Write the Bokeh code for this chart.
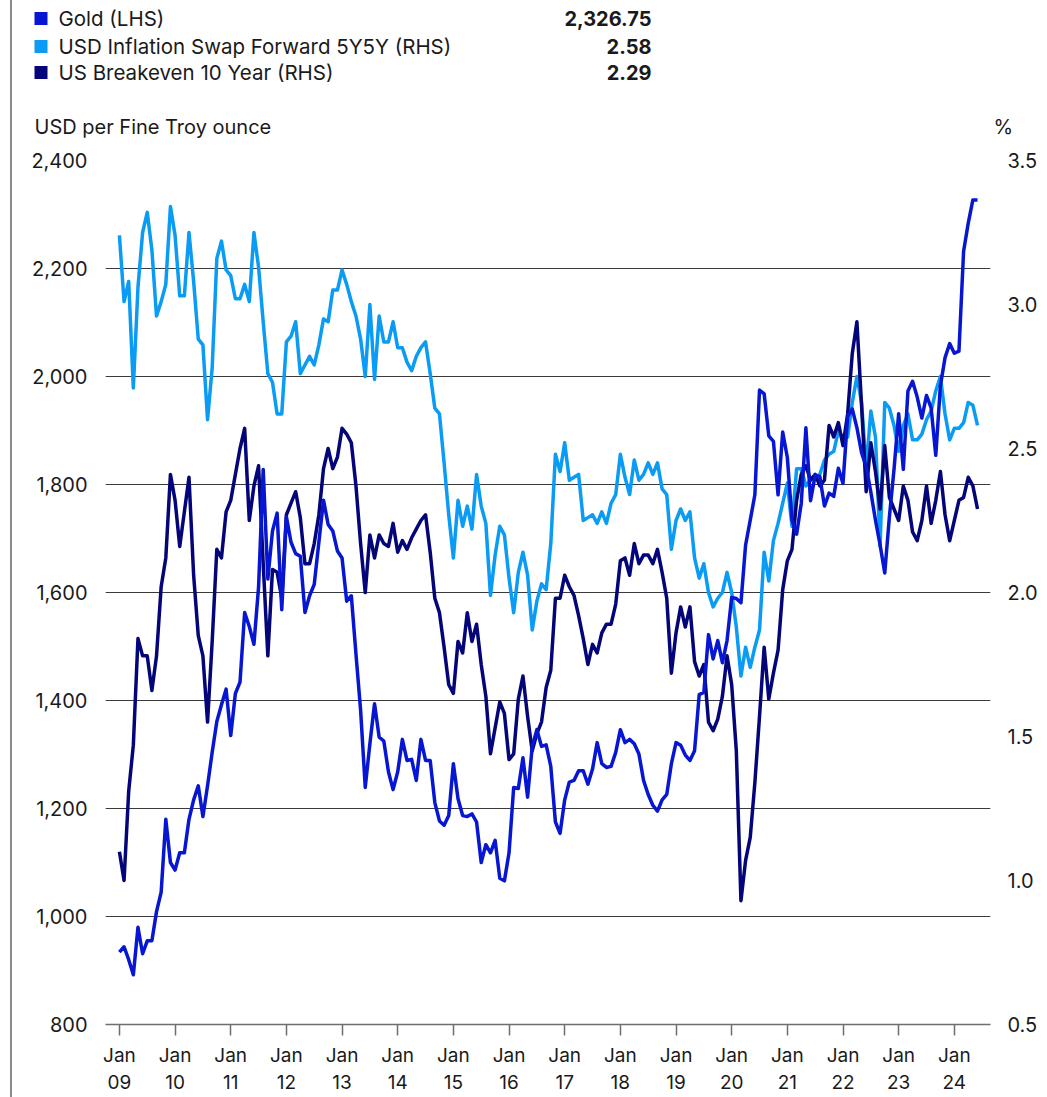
from bokeh.plotting import figure
from bokeh.models import Range1d, LinearAxis, FixedTicker, NumeralTickFormatter
from bokeh.embed import file_html
from bokeh.resources import INLINE
from bokeh.core.properties import value

# ---------------- data (monthly, Jan 2009 - Jun 2024) ----------------
gold = [934, 944, 920, 892, 980, 931, 955, 955, 1009, 1045, 1180, 1100,
        1086, 1118, 1118, 1180, 1216, 1242, 1185, 1242, 1304, 1361, 1392, 1421,
        1335, 1413, 1434, 1563, 1537, 1504, 1610, 1828, 1625, 1714, 1747, 1568,
        1740, 1693, 1672, 1667, 1563, 1594, 1615, 1693, 1771, 1726, 1714, 1677,
        1664, 1584, 1594, 1486, 1382, 1239, 1320, 1394, 1332, 1325, 1268, 1235,
        1268, 1328, 1289, 1291, 1252, 1328, 1289, 1289, 1211, 1177, 1169, 1187,
        1283, 1218, 1187, 1185, 1190, 1175, 1100, 1133, 1118, 1141, 1071, 1066,
        1118, 1239, 1237, 1294, 1221, 1315, 1346, 1315, 1318, 1278, 1175, 1154,
        1216, 1249, 1252, 1270, 1270, 1245, 1273, 1322, 1283, 1276, 1278, 1304,
        1346, 1322, 1328, 1320, 1301, 1252, 1226, 1206, 1195, 1216, 1226, 1283,
        1322, 1317, 1299, 1289, 1307, 1411, 1415, 1522, 1477, 1511, 1470, 1511,
        1591, 1589, 1581, 1688, 1734, 1781, 1975, 1968, 1890, 1880, 1781, 1897,
        1850, 1734, 1708, 1765, 1905, 1770, 1817, 1815, 1760, 1784, 1778, 1830,
        1802, 1926, 1940, 1905, 1859, 1833, 1786, 1734, 1688, 1636, 1740, 1828,
        1931, 1828, 1973, 1991, 1962, 1923, 1965, 1942, 1854, 1983, 2035, 2061,
        2043, 2047, 2232, 2284, 2327, 2326.75]

swap_5y5y = [3.24, 3.01, 3.08, 2.71, 3.06, 3.25, 3.32, 3.19, 2.96, 3.01, 3.07, 3.34,
             3.24, 3.03, 3.03, 3.25, 3.08, 2.88, 2.86, 2.60, 2.78, 3.16, 3.22, 3.12,
             3.10, 3.02, 3.02, 3.07, 3.01, 3.25, 3.13, 2.94, 2.76, 2.73, 2.62, 2.62,
             2.87, 2.89, 2.94, 2.76, 2.79, 2.82, 2.79, 2.86, 2.95, 2.94, 3.05, 3.05,
             3.12, 3.07, 3.01, 2.96, 2.88, 2.75, 3.00, 2.74, 2.96, 2.87, 2.87, 2.94,
             2.85, 2.85, 2.80, 2.77, 2.82, 2.85, 2.87, 2.76, 2.64, 2.62, 2.45, 2.27,
             2.12, 2.32, 2.23, 2.30, 2.22, 2.41, 2.30, 2.24, 1.99, 2.13, 2.23, 2.20,
             2.05, 1.93, 2.07, 2.14, 2.06, 1.87, 1.97, 2.03, 2.01, 2.17, 2.48, 2.42,
             2.52, 2.39, 2.40, 2.41, 2.25, 2.26, 2.27, 2.24, 2.28, 2.24, 2.31, 2.34,
             2.48, 2.40, 2.34, 2.46, 2.39, 2.41, 2.45, 2.41, 2.45, 2.36, 2.34, 2.15,
             2.25, 2.29, 2.25, 2.28, 2.12, 2.05, 2.10, 2.00, 1.95, 1.98, 2.00, 2.07,
             2.00, 1.88, 1.71, 1.81, 1.74, 1.81, 1.87, 2.14, 2.04, 2.18, 2.24, 2.31,
             2.38, 2.23, 2.43, 2.43, 2.37, 2.39, 2.40, 2.41, 2.46, 2.48, 2.49, 2.56,
             2.54, 2.54, 2.66, 2.75, 2.66, 2.43, 2.63, 2.54, 2.16, 2.66, 2.64, 2.58,
             2.49, 2.58, 2.62, 2.53, 2.53, 2.55, 2.60, 2.63, 2.70, 2.75, 2.62, 2.53,
             2.57, 2.57, 2.59, 2.66, 2.65, 2.58]

breakeven_10y = [1.10, 1.00, 1.31, 1.47, 1.84, 1.78, 1.78, 1.66, 1.78, 2.02, 2.12, 2.41,
                 2.32, 2.16, 2.28, 2.40, 2.06, 1.85, 1.78, 1.55, 1.83, 2.15, 2.12, 2.28,
                 2.32, 2.41, 2.50, 2.57, 2.25, 2.37, 2.44, 2.10, 1.78, 2.08, 2.07, 1.98,
                 2.27, 2.31, 2.35, 2.26, 2.10, 2.10, 2.17, 2.27, 2.43, 2.50, 2.43, 2.47,
                 2.57, 2.55, 2.52, 2.37, 2.17, 2.00, 2.20, 2.12, 2.20, 2.17, 2.16, 2.24,
                 2.14, 2.18, 2.15, 2.19, 2.22, 2.25, 2.27, 2.14, 1.98, 1.93, 1.81, 1.68,
                 1.65, 1.83, 1.79, 1.93, 1.83, 1.89, 1.75, 1.64, 1.44, 1.53, 1.62, 1.58,
                 1.42, 1.44, 1.63, 1.71, 1.57, 1.45, 1.51, 1.55, 1.67, 1.73, 1.98, 1.98,
                 2.06, 2.02, 1.99, 1.92, 1.84, 1.75, 1.82, 1.79, 1.86, 1.89, 1.89, 1.96,
                 2.11, 2.12, 2.06, 2.17, 2.10, 2.13, 2.13, 2.10, 2.15, 2.07, 1.98, 1.72,
                 1.86, 1.95, 1.88, 1.95, 1.76, 1.71, 1.75, 1.55, 1.52, 1.56, 1.64, 1.78,
                 1.68, 1.45, 0.93, 1.07, 1.15, 1.34, 1.57, 1.81, 1.63, 1.72, 1.80, 2.01,
                 2.11, 2.15, 2.32, 2.41, 2.44, 2.39, 2.41, 2.37, 2.39, 2.58, 2.54, 2.59,
                 2.51, 2.62, 2.83, 2.94, 2.65, 2.35, 2.52, 2.42, 2.29, 2.51, 2.33, 2.29,
                 2.25, 2.37, 2.32, 2.21, 2.18, 2.25, 2.37, 2.24, 2.32, 2.42, 2.27, 2.18,
                 2.25, 2.32, 2.33, 2.40, 2.37, 2.29]

months = list(range(len(gold)))          # 0 = Jan 2009

series_names = ["Gold (LHS)", "USD Inflation Swap Forward 5Y5Y (RHS)", "US Breakeven 10 Year (RHS)"]
series_colors = ["#0716D2", "#0A9BF5", "#05057A"]

x_tick_months = [0, 12, 24, 36, 48, 60, 72, 84, 96, 108, 120, 132, 144, 156, 168, 180]
x_tick_labels = ["Jan\n09", "Jan\n10", "Jan\n11", "Jan\n12", "Jan\n13", "Jan\n14", "Jan\n15", "Jan\n16",
                 "Jan\n17", "Jan\n18", "Jan\n19", "Jan\n20", "Jan\n21", "Jan\n22", "Jan\n23", "Jan\n24"]
lhs_ticks = [800, 1000, 1200, 1400, 1600, 1800, 2000, 2200, 2400]
rhs_ticks = [0.5, 1.0, 1.5, 2.0, 2.5, 3.0, 3.5]

FONT = "Inter"
TXT = "#1a1a1a"
BORDER = {"border-left": "2px solid #8a8a8a"}
CANVAS_X = 12     # page x of both canvases (10px margin + 2px border)
HEAD_H = 145      # header block height (page y 0..145)
W = 1035
LW = 3.5

# ---------------- header: legend + axis titles ----------------
head = figure(width=W, height=HEAD_H, x_range=Range1d(CANVAS_X, CANVAS_X + W), y_range=Range1d(HEAD_H, 0),
              output_backend="svg", toolbar_location=None, min_border=0,
              x_axis_type=None, y_axis_type=None)
head.outline_line_color = None
head.grid.visible = False
head.styles = BORDER
head.margin = (0, 0, 0, 10)

leg_y = [18, 46, 72]
last_vals = [f"{gold[-1]:,.2f}", f"{swap_5y5y[-1]:.2f}", f"{breakeven_10y[-1]:.2f}"]
head.rect(x=[40.5] * 3, y=leg_y, width=13, height=13, fill_color=series_colors, line_color=None)
head.text(x=[58] * 3, y=leg_y, text=series_names, text_baseline="middle", text_align="left",
          text_font=value(FONT), text_font_size="20.5px", text_color=TXT)
head.text(x=[651] * 3, y=leg_y, text=last_vals, text_baseline="middle", text_align="right",
          text_font=value(FONT), text_font_size="20px", text_font_style="bold", text_color=TXT)
head.text(x=[34], y=[126], text=["USD per Fine Troy ounce"], text_baseline="middle", text_align="left",
          text_font=value(FONT), text_font_size="20px", text_color=TXT)
head.text(x=[993], y=[126], text=["%"], text_baseline="middle", text_align="left",
          text_font=value(FONT), text_font_size="20px", text_color=TXT)

# ---------------- main chart ----------------
B_LEFT, B_RIGHT, B_TOP, B_BOTTOM = 93, 57, 160 - HEAD_H, 73
FW, FH = 885, 864
p = figure(width=B_LEFT + FW + B_RIGHT, height=B_TOP + FH + B_BOTTOM,
           x_range=Range1d(-3.0, 187.8), y_range=Range1d(800, 2400),
           output_backend="svg", toolbar_location=None,
           min_border_left=B_LEFT, min_border_right=B_RIGHT,
           min_border_top=B_TOP, min_border_bottom=B_BOTTOM)
p.styles = BORDER
p.margin = (0, 0, 0, 10)
p.extra_y_ranges = {"rhs": Range1d(0.5, 3.5)}
p.outline_line_color = None
p.xgrid.visible = False
p.ygrid.ticker = FixedTicker(ticks=lhs_ticks)
p.ygrid.grid_line_color = "#3a3a3a"
p.ygrid.grid_line_width = 1

ly = p.yaxis[0]
ly.ticker = FixedTicker(ticks=lhs_ticks)
ly.formatter = NumeralTickFormatter(format="0,0")
ly.axis_line_color = None
ly.major_tick_line_color = None
ly.minor_tick_line_color = None
ly.major_label_standoff = 12
ly.major_label_text_font = FONT
ly.major_label_text_font_size = "20px"
ly.major_label_text_color = TXT

ry = LinearAxis(y_range_name="rhs", ticker=FixedTicker(ticks=rhs_ticks),
                formatter=NumeralTickFormatter(format="0.0"))
ry.axis_line_color = None
ry.major_tick_line_color = None
ry.minor_tick_line_color = None
ry.major_label_standoff = 11
ry.major_label_text_font = FONT
ry.major_label_text_font_size = "20px"
ry.major_label_text_color = TXT
p.add_layout(ry, "right")

bx = p.xaxis[0]
bx.ticker = FixedTicker(ticks=x_tick_months)
bx.major_label_overrides = {m: lab for m, lab in zip(x_tick_months, x_tick_labels)}
bx.axis_line_color = "#6e6e6e"
bx.axis_line_width = 1.5
bx.major_tick_line_color = "#6e6e6e"
bx.major_tick_line_width = 1.5
bx.major_tick_out = 11
bx.major_tick_in = 0
bx.minor_tick_line_color = None
bx.major_label_standoff = 8
bx.major_label_text_font = FONT
bx.major_label_text_font_size = "19px"
bx.major_label_text_color = TXT

p.line(months, swap_5y5y, y_range_name="rhs", line_color=series_colors[1], line_width=LW, line_join="round")
p.line(months, breakeven_10y, y_range_name="rhs", line_color=series_colors[2], line_width=LW, line_join="round")
p.line(months, gold, line_color=series_colors[0], line_width=LW, line_join="round")

open("out.html", "w").write(file_html([head, p], INLINE))
